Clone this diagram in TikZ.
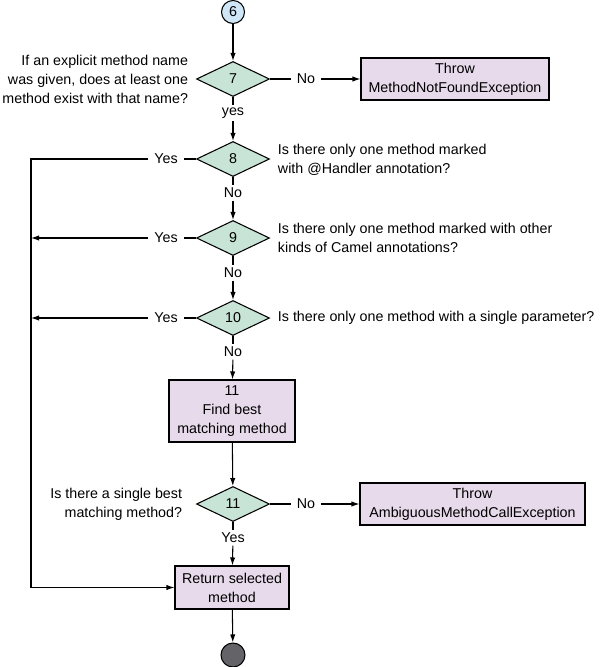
\documentclass[tikz,border=0pt]{standalone}
\usepackage{fontspec}
\setmainfont{Liberation Sans}
\usetikzlibrary{shapes.geometric,arrows.meta}
\definecolor{stepblue}{RGB}{206,230,246}
\definecolor{testgreen}{RGB}{200,228,214}
\definecolor{boxlilac}{RGB}{231,218,235}
\definecolor{endgray}{RGB}{100,100,104}
\begin{document}
\begin{tikzpicture}[x=0.75pt,y=-0.75pt,line width=0.8pt,
    >={Latex[length=6pt,width=4pt]},
    every node/.style={font=\fontsize{10.7}{14.25}\selectfont},
    test/.style={diamond,draw,fill=testgreen,inner sep=0pt,
      minimum width=54.75pt,minimum height=26.25pt},
    action/.style={rectangle,draw,fill=boxlilac,align=center,inner sep=2pt},
    lbl/.style={inner xsep=4pt,inner ysep=1.5pt}]
    \useasboundingbox (0,0) rectangle (600,667);
    % main column
    \node[circle,draw,fill=stepblue,minimum size=17.25pt,inner sep=0pt] (c6) at (233,12) {6};
    \node[test] (d7) at (233,79) {7};
    \node[lbl] (yes7) at (233,113) {yes};
    \node[test] (d8) at (233,159) {8};
    \node[lbl] (no8) at (233,193) {No};
    \node[test] (d9) at (233,238) {9};
    \node[lbl] (no9) at (233,273) {No};
    \node[test] (d10) at (233,318) {10};
    \node[lbl] (no10) at (233,352) {No};
    \node[action,minimum width=94.5pt,minimum height=46.5pt] (f11) at (232,411) {11\\Find best\\matching method};
    \node[test] (d11) at (233,504) {11};
    \node[lbl] (yes11) at (233,538) {Yes};
    \node[action,minimum width=85.5pt,minimum height=32.25pt] (ret) at (232,587.5) {Return selected\\method};
    \node[circle,draw,fill=endgray,minimum size=18pt,inner sep=0pt] (fin) at (233,655) {};
    % exceptions
    \node[lbl] (no7) at (306,79) {No};
    \node[action,minimum width=141pt,minimum height=31.5pt] (t7) at (455,79) {Throw\\MethodNotFoundException};
    \node[lbl] (no11) at (306,504) {No};
    \node[action,minimum width=168.75pt,minimum height=31.5pt] (t11) at (472.5,504) {Throw\\AmbiguousMethodCallException};
    % questions
    \node[anchor=east,align=right] (q7) at (193,79) {If an explicit method name\\was given, does at least one\\method exist with that name?};
    \node[anchor=west,align=left] (q8) at (273,159.5) {Is there only one method marked\\with @Handler annotation?};
    \node[anchor=west,align=left] (q9) at (273,238) {Is there only one method marked with other\\kinds of Camel annotations?};
    \node[anchor=west,align=left] (q10) at (273,318) {Is there only one method with a single parameter?};
    \node[anchor=east,align=right] (q11) at (187,504) {Is there a single best\\matching method?};
    % yes branches
    \node[lbl] (y8) at (166,159) {Yes};
    \node[lbl] (y9) at (166,238) {Yes};
    \node[lbl] (y10) at (166,318) {Yes};
    \coordinate (l8) at (31,159);
    % connectors
    \draw[->] (c6) -- (d7);
    \draw (d7) -- (no7);
    \draw[->] (no7) -- (t7);
    \draw (d7) -- (yes7);
    \draw[->] (yes7) -- (d8);
    \draw (d8) -- (y8);
    \draw[->] (y8) -- (l8) |- (ret);
    \draw (d8) -- (no8);
    \draw[->] (no8) -- (d9);
    \draw (d9) -- (y9);
    \draw[->] (y9) -- (y9 -| l8);
    \draw (d9) -- (no9);
    \draw[->] (no9) -- (d10);
    \draw (d10) -- (y10);
    \draw[->] (y10) -- (y10 -| l8);
    \draw (d10) -- (no10);
    \draw[->] (no10) -- (f11);
    \draw[->] (f11) -- (d11);
    \draw (d11) -- (no11);
    \draw[->] (no11) -- (t11);
    \draw (d11) -- (yes11);
    \draw[->] (yes11) -- (ret);
    \draw[->] (ret) -- (fin);
\end{tikzpicture}
\end{document}
